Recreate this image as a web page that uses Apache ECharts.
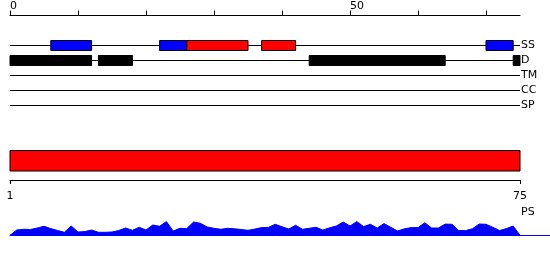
<!DOCTYPE html>
<html>
<head>
<meta charset="utf-8">
<script src="https://cdn.jsdelivr.net/npm/echarts@6/dist/echarts.min.js"></script>
<style>
html,body{margin:0;padding:0;background:#fff;}
#c{width:550px;height:260px;}
</style>
</head>
<body>
<div id="c"></div>
<script>
// ---- data ----
const tracks = ['SS', 'D', 'TM', 'CC', 'SP'];
const topTicks = [0, 10, 20, 30, 40, 50, 60, 70];
const topLabels = [0, 50];
const bottomTicks = [1, 75];
const ssBlue = [[6, 12], [22, 26], [70, 74]];
const ssRed = [[26, 35], [37, 42]];
const dBlack = [[0, 12], [13, 18], [44, 64], [74, 75]];
const psRed = [[1, 75]];
const profile = [0, 5.3, 6, 5.8, 7.3, 9, 6.7, 4.8, 3, 9.3,
  3.3, 3.7, 5.3, 3, 3, 3.3, 4.8, 7.3, 5, 8,
  5.3, 10.3, 9, 13.7, 4.3, 7, 6.7, 13.3, 12, 8.3,
  7, 6, 7, 6.5, 5.8, 5, 6.2, 7.7, 7.9, 11,
  8.5, 6.3, 10, 6, 7, 8, 5.3, 7.5, 9.3, 13.3,
  9.3, 13.7, 8.7, 11, 7.3, 11.7, 8, 4.3, 6.5, 7.7,
  7.7, 12.5, 7.3, 7.3, 11.2, 11, 4.7, 4.7, 6.5, 11.3,
  11, 8, 4.7, 6.7, 9.3, 0];

const FONT = 'DejaVu Sans';
const PALETTE = ['#0000ff', '#ff0000', '#000000'];
const chart = echarts.init(document.getElementById('c'), null, {renderer: 'canvas'});

function boxes(list, trackIdx, colorIdx) {
  return list.map(d => [d[0], d[1], trackIdx, colorIdx]);
}

function renderBox(params, api) {
  const s = api.coord([api.value(0), api.value(2)]);
  const e = api.coord([api.value(1), api.value(2)]);
  return {
    type: 'rect',
    shape: {x: s[0], y: s[1] - 5, width: e[0] - s[0], height: 10},
    style: {fill: PALETTE[api.value(3)], stroke: '#000', lineWidth: 1}
  };
}

const trackLines = tracks.map((t, i) => ({
  type: 'line', xAxisIndex: 0, yAxisIndex: 0,
  data: [[0, i + 2], [75, i + 2]],
  symbol: 'none', silent: true, z: 1,
  lineStyle: {color: '#000', width: 1}
}));

chart.setOption({
  animation: false,
  textStyle: {fontFamily: FONT},
  title: {
    text: 'PS', left: 516, top: 202,
    textStyle: {fontFamily: FONT, fontSize: 11, fontWeight: 'normal', color: '#000'}
  },
  grid: [
    {left: 10, right: 30, top: 15.5, height: 90},
    {left: 10, right: 30, top: 150, height: 30},
    {left: 10, right: 0, top: 215, height: 20.3}
  ],
  xAxis: [
    {
      gridIndex: 0, type: 'value', position: 'top', min: 0, max: 75, interval: 10,
      axisLine: {show: true, onZero: false, lineStyle: {color: '#000', width: 1}},
      axisTick: {show: true, length: 5, customValues: topTicks, lineStyle: {color: '#000'}},
      axisLabel: {show: true, customValues: topLabels, align: 'left', margin: 4,
        fontFamily: FONT, fontSize: 11, color: '#000'},
      splitLine: {show: false}
    },
    {
      gridIndex: 1, type: 'value', position: 'bottom', min: 1, max: 75,
      axisLine: {show: true, onZero: false, lineStyle: {color: '#000', width: 1}},
      axisTick: {show: true, length: 4, customValues: bottomTicks, lineStyle: {color: '#000'}},
      axisLabel: {show: true, customValues: bottomTicks, margin: 11,
        fontFamily: FONT, fontSize: 11, color: '#000'},
      splitLine: {show: false}
    },
    {
      gridIndex: 2, type: 'value', min: 0, max: 540 / 6.8,
      axisLine: {show: true, onZero: false, lineStyle: {color: '#0000ff', width: 1}},
      axisTick: {show: false}, axisLabel: {show: false}, splitLine: {show: false}
    }
  ],
  yAxis: [
    {
      gridIndex: 0, type: 'value', min: 0, max: 6, interval: 1, inverse: true, position: 'right',
      axisLine: {show: false}, axisTick: {show: false}, splitLine: {show: false},
      axisLabel: {show: true, margin: 1, fontFamily: FONT, fontSize: 11, color: '#000',
        formatter: v => (v >= 2 ? tracks[v - 2] : '')}
    },
    {gridIndex: 1, type: 'value', min: 0, max: 30, inverse: true, show: false},
    {gridIndex: 2, type: 'value', min: 0, max: 20.3, show: false}
  ],
  series: trackLines.concat([
    {
      type: 'custom', xAxisIndex: 0, yAxisIndex: 0, clip: false, z: 3,
      renderItem: renderBox,
      data: boxes(ssBlue, 2, 0).concat(boxes(ssRed, 2, 1)).concat(boxes(dBlack, 3, 2))
    },
    {
      type: 'custom', xAxisIndex: 1, yAxisIndex: 1, clip: false, z: 3,
      renderItem: function (params, api) {
        const s = api.coord([api.value(0), 0]);
        const e = api.coord([api.value(1), 20.5]);
        return {
          type: 'rect',
          shape: {x: s[0], y: s[1] + 0.5, width: e[0] - s[0], height: e[1] - s[1]},
          style: {fill: '#ff0000', stroke: '#000', lineWidth: 1}
        };
      },
      data: psRed
    },
    {
      type: 'line', xAxisIndex: 2, yAxisIndex: 2, symbol: 'none', silent: true,
      data: profile.map((v, i) => [i, v]),
      lineStyle: {color: '#0000ff', width: 1},
      areaStyle: {color: '#0000ff', opacity: 1}
    }
  ])
});
</script>
</body>
</html>
